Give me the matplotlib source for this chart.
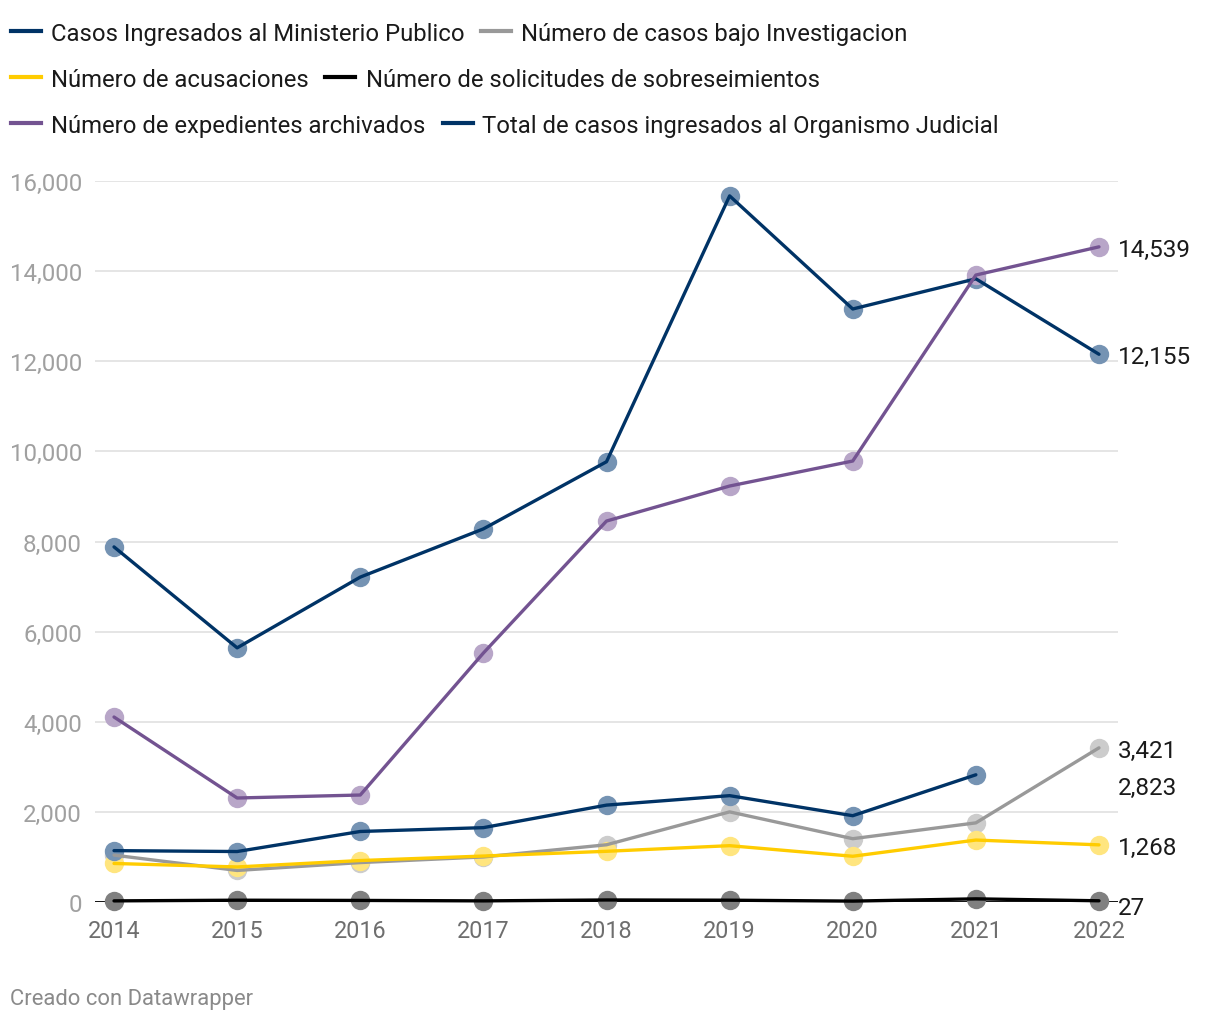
import matplotlib.pyplot as plt
import numpy as np

plt.rcParams['font.family'] = ['Roboto', 'DejaVu Sans']

years = [2014, 2015, 2016, 2017, 2018, 2019, 2020, 2021, 2022]

ministerio = [7880, 5640, 7210, 8280, 9770, 15670, 13160, 13830, 12155]
investigacion = [1040, 700, 875, 1000, 1270, 2000, 1405, 1756, 3421]
acusaciones = [855, 778, 920, 1020, 1125, 1250, 1015, 1375, 1268]
sobreseimientos = [25, 40, 35, 25, 45, 40, 20, 70, 27]
archivados = [4105, 2308, 2374, 5525, 8454, 9231, 9786, 13913, 14539]
organismo = [1140, 1120, 1565, 1650, 2150, 2360, 1915, 2823, None]

series = [
    ('Casos Ingresados al Ministerio Publico', ministerio, '#003366', '#7593b3'),
    ('Número de casos bajo Investigacion', investigacion, '#999999', '#cccccc'),
    ('Número de acusaciones', acusaciones, '#ffcc00', '#ffe57f'),
    ('Número de solicitudes de sobreseimientos', sobreseimientos, '#000000', '#808080'),
    ('Número de expedientes archivados', archivados, '#735391', '#b8a6c8'),
    ('Total de casos ingresados al Organismo Judicial', organismo, '#003366', '#7593b3'),
]

# value shown at the right end, and where it sits vertically
end_labels = [
    (12155, 12155), (3421, 3421), (1268, 1268), (27, -60), (14539, 14539), (2823, 2600),
]

fig = plt.figure(figsize=(12.2, 10.2), dpi=100)
ax = fig.add_axes([95 / 1220, (1020 - 903) / 1020, (1118 - 95) / 1220, (903 - 182) / 1020])

pad = 19 / 123
ax.set_xlim(2014 - pad, 2022 + pad)
ax.set_ylim(0, 16000)

for (name, vals, color, mcolor), (val, ypos) in zip(series, end_labels):
    xs = [x for x, v in zip(years, vals) if v is not None]
    ys = [v for v in vals if v is not None]
    ax.scatter(xs, ys, s=195, color=mcolor, zorder=3, clip_on=False, linewidths=0)
    ax.plot(xs, ys, color=color, lw=2.4, zorder=4, clip_on=False,
            solid_capstyle='round', solid_joinstyle='round')
    ax.text(2022 + pad, ypos, f'{val:,}', fontsize=17.5, color='#1a1a1a',
            va='center_baseline', ha='left')

ax.axhline(0, color='black', lw=2, zorder=2)
ax.set_yticks(range(0, 16001, 2000))
ax.set_yticklabels([f'{v:,}' for v in range(0, 16001, 2000)])
ax.grid(axis='y', color='#e0e0e0', lw=1.2, zorder=0)
ax.set_xticks(years)
ax.tick_params(axis='y', length=0, pad=9.4, labelsize=17.3, labelcolor='#a0a0a0')
ax.tick_params(axis='x', length=0, pad=12.5, labelsize=16.8, labelcolor='#6e6e6e')
for s in ax.spines.values():
    s.set_visible(False)

# legend: three rows of two, handle x, text x, row y (pixels)
leg_pos = [(11, 51, 32), (481, 521, 32), (11, 51, 78), (325, 366, 78), (11, 51, 124), (443, 482, 124)]
for (name, vals, color, mcolor), (hx, tx, py) in zip(series, leg_pos):
    fy = 1 - py / 1020
    fig.add_artist(plt.Line2D([hx / 1220, (hx + 30) / 1220], [fy, fy],
                              color=color, lw=3, transform=fig.transFigure))
    fig.text(tx / 1220, fy, name, fontsize=17.2, color='#1a1a1a',
             va='center_baseline', ha='left')

fig.text(10 / 1220, 1 - 997 / 1020, 'Creado con Datawrapper', fontsize=15.8,
         color='#8a8a8a', va='center_baseline', ha='left')

fig.savefig('out.png', dpi=100)
